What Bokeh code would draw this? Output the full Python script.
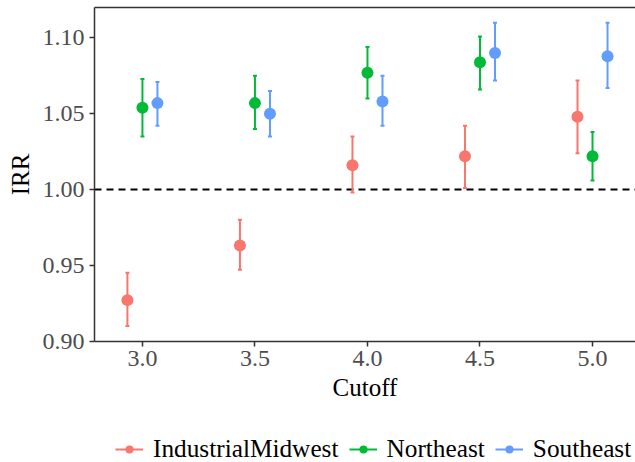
from bokeh.plotting import figure
from bokeh.layouts import column
from bokeh.models import (ColumnDataSource, Span, Range1d, LinearAxis,
                          FixedTicker, Legend, LegendItem)
from bokeh.embed import file_html
from bokeh.resources import INLINE

# Incidence rate ratios by cutoff and region, with 95% intervals
cutoffs = [3.0, 3.5, 4.0, 4.5, 5.0]
regions = ["IndustrialMidwest", "Northeast", "Southeast"]
colors = ["#F8766D", "#00BA38", "#619CFF"]

im_irr = [0.927, 0.963, 1.016, 1.022, 1.048]
im_lo = [0.910, 0.947, 0.998, 1.001, 1.024]
im_hi = [0.945, 0.980, 1.035, 1.042, 1.072]

ne_irr = [1.054, 1.057, 1.077, 1.084, 1.022]
ne_lo = [1.035, 1.040, 1.060, 1.066, 1.006]
ne_hi = [1.073, 1.075, 1.094, 1.101, 1.038]

se_irr = [1.057, 1.050, 1.058, 1.090, 1.088]
se_lo = [1.042, 1.035, 1.042, 1.072, 1.067]
se_hi = [1.071, 1.065, 1.075, 1.110, 1.110]

y_ticks = [0.90, 0.95, 1.00, 1.05, 1.10]
x_ticks = [3.0, 3.5, 4.0, 4.5, 5.0]

series = [(im_irr, im_lo, im_hi), (ne_irr, ne_lo, ne_hi), (se_irr, se_lo, se_hi)]
dodge_offsets = [-0.0667, 0.0, 0.0667]

FONT = "Liberation Serif"
AXIS_COLOR = "#333333"
TICK_TEXT = "#4D4D4D"

p = figure(width=635, height=415, output_backend="svg", toolbar_location=None,
           x_range=Range1d(2.787, 5.191), y_range=Range1d(0.8997, 1.1201),
           min_border_left=94, min_border_right=0, min_border_top=7,
           min_border_bottom=74, background_fill_color="white",
           border_fill_color="white", outline_line_color=None)

p.xgrid.visible = False
p.ygrid.visible = False

# reference line at IRR = 1
p.add_layout(Span(location=1.0, dimension="width", line_color="black",
                  line_width=2, line_dash="7 5", level="underlay"))

sources = []
for col, (irr, lo, hi), off in zip(colors, series, dodge_offsets):
    src = ColumnDataSource(dict(x=[c + off for c in cutoffs], irr=irr, lo=lo, hi=hi))
    sources.append(src)
    p.segment(x0="x", y0="lo", x1="x", y1="hi", source=src,
              line_color=col, line_width=2)
    p.scatter("x", "lo", source=src, marker="dash", size=4,
              line_color=col, line_width=2)
    p.scatter("x", "hi", source=src, marker="dash", size=4,
              line_color=col, line_width=2)
    p.scatter("x", "irr", source=src, size=12, fill_color=col,
              line_color=col, line_width=0)

# axes
for ax in (p.xaxis[0], p.yaxis[0]):
    ax.axis_line_color = AXIS_COLOR
    ax.axis_line_width = 1.5
    ax.major_tick_line_color = AXIS_COLOR
    ax.major_tick_line_width = 1.5
    ax.major_tick_out = 5
    ax.major_tick_in = 0
    ax.minor_tick_line_color = None
    ax.major_label_text_font = FONT
    ax.major_label_text_font_size = "24px"
    ax.major_label_text_color = TICK_TEXT
    ax.axis_label_text_font = FONT
    ax.axis_label_text_font_size = "25px"
    ax.axis_label_text_font_style = "normal"
    ax.axis_label_text_color = "black"

p.xaxis[0].ticker = FixedTicker(ticks=x_ticks)
p.xaxis[0].major_label_overrides = {t: f"{t:.1f}" for t in x_ticks}
p.xaxis[0].axis_label = "Cutoff"
p.xaxis[0].major_label_standoff = 4
p.xaxis[0].axis_label_standoff = 5

p.yaxis[0].ticker = FixedTicker(ticks=y_ticks)
p.yaxis[0].major_label_overrides = {t: f"{t:.2f}" for t in y_ticks}
p.yaxis[0].axis_label = "IRR"
p.yaxis[0].major_label_standoff = 5
p.yaxis[0].axis_label_standoff = 6

# top border of the panel
top = LinearAxis(ticker=FixedTicker(ticks=[]), axis_line_color=AXIS_COLOR,
                 axis_line_width=1.5, major_tick_out=0, major_tick_in=0,
                 minor_tick_out=0, minor_tick_in=0, major_label_standoff=0,
                 major_label_text_font_size="0px")
p.add_layout(top, "above")

# key strip underneath the chart: hidden key renderers feed the legend glyphs
key = figure(width=635, height=47, output_backend="svg", toolbar_location=None,
             x_axis_type=None, y_axis_type=None, min_border=0,
             outline_line_color=None, background_fill_color="white",
             border_fill_color="white")
key.xgrid.visible = False
key.ygrid.visible = False

items = []
for name, col, src in zip(regions, colors, sources):
    bar = key.segment(x0="x", y0="lo", x1="x", y1="hi", source=src,
                      line_color=col, line_width=2, visible=False)
    dot = key.scatter("x", "irr", source=src, fill_color=col,
                      line_color=col, line_width=0, visible=False)
    items.append(LegendItem(label=name, renderers=[bar, dot]))

# the strip's frame is aligned with the chart frame, so x is measured from it
legend = Legend(items=items, orientation="horizontal", location=(21, -1),
                glyph_width=28, glyph_height=20, label_standoff=10, spacing=10,
                padding=0, margin=0, border_line_color=None,
                background_fill_alpha=0, inactive_fill_alpha=0,
                label_text_font=FONT, label_text_font_size="25.3px",
                label_text_color="black")
key.add_layout(legend, "center")

open("out.html", "w").write(file_html(column(p, key, spacing=0), INLINE))
